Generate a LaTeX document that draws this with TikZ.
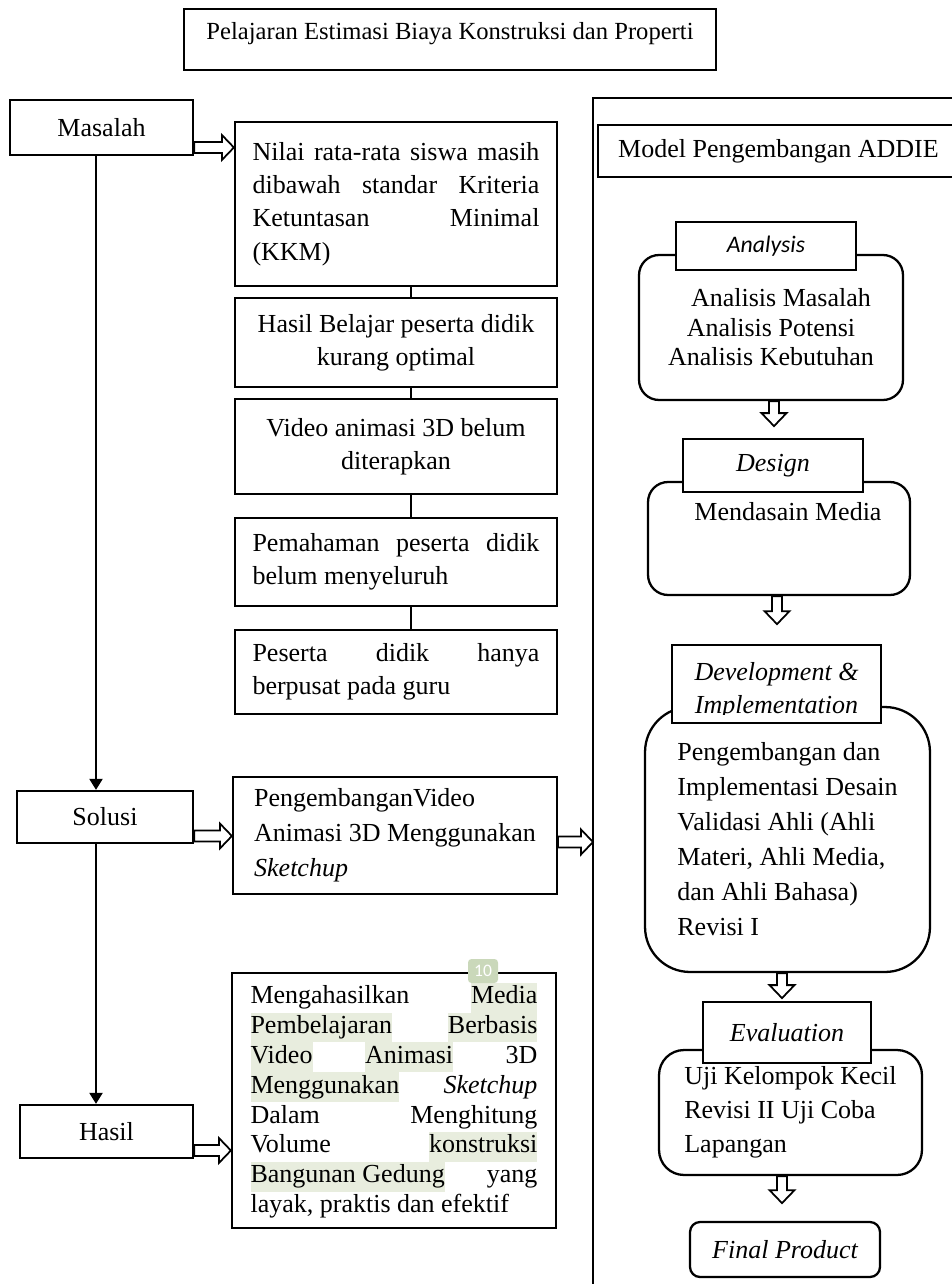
\documentclass[tikz,border=0pt]{standalone}
\usepackage{fontspec}
\setmainfont{Liberation Serif}
\newfontfamily\calibri{Carlito}
\usetikzlibrary{arrows.meta,calc}

\definecolor{hlgreen}{RGB}{232,237,222}
\definecolor{badgegreen}{RGB}{202,216,186}

\newcommand\fs{\fontsize{14.8}{19}\selectfont}
\newlength\jw
\setlength\jw{5.74cm}
\newcommand\jl[1]{\makebox[\jw][s]{#1}}
\newcommand\hl[1]{{\setlength{\fboxsep}{0pt}\colorbox{hlgreen}{\strut #1}}}

\begin{document}
\begin{tikzpicture}[
    x=0.02cm, y=-0.02cm, font=\fs,
    box/.style={draw,line width=1.3pt,inner sep=0pt},
    rbox/.style={box,rounded corners=#1},
    tab/.style={box,fill=white,font=\fs\itshape},
    lead/.style={line width=1.2pt,-{Triangle[length=0.22cm,width=0.26cm]}},
    link/.style={line width=1.3pt},
    blk/.style={draw,line width=1pt,fill=white},
    badge/.style={fill=badgegreen,rounded corners=2pt,minimum width=0.6cm,minimum height=0.48cm,inner sep=0pt,text=white,font=\calibri\fontsize{10}{10}\selectfont},
    hollowR/.style={to path={let \p1=(\tikztostart), \p2=(\tikztotarget) in
      (\x1,\y1+0.11cm) -- (\x2-0.24cm,\y1+0.11cm) -- (\x2-0.24cm,\y1+0.25cm) -- (\x2,\y1)
      -- (\x2-0.24cm,\y1-0.25cm) -- (\x2-0.24cm,\y1-0.11cm) -- (\x1,\y1-0.11cm) -- cycle}},
    hollowD/.style={to path={let \p1=(\tikztostart), \p2=(\tikztotarget) in
      (\x1-0.1cm,\y1) -- (\x1-0.1cm,\y2+0.26cm) -- (\x1-0.25cm,\y2+0.26cm) -- (\x1,\y2)
      -- (\x1+0.25cm,\y2+0.26cm) -- (\x1+0.1cm,\y2+0.26cm) -- (\x1+0.1cm,\y1) -- cycle}},
]
\useasboundingbox (0,0) rectangle (952,1284);

% ================= title =================
\node[box,minimum width=10.64cm,minimum height=1.22cm,text height=17.4pt,text depth=17.4pt,font=\fontsize{14}{17}\selectfont] (title) at (450,39.5) {Pelajaran Estimasi Biaya Konstruksi dan Properti};

% ================= left column: Masalah / Solusi / Hasil =================
\node[box,minimum width=3.66cm,minimum height=1.1cm] (masalah) at (101.5,127.5) {Masalah};
\node[box,minimum width=3.52cm,minimum height=1.04cm] (solusi) at (105,817) {Solusi};
\node[box,minimum width=3.46cm,minimum height=1.06cm] (hasil) at (106.5,1131.5) {Hasil};
\coordinate (spine) at (96,0);
\draw[lead] (masalah.south -| spine) -- (solusi.north -| spine);
\draw[lead] (solusi.south -| spine) -- (hasil.north -| spine);

% ================= problem chain =================
\node[box,minimum width=6.44cm,minimum height=3.28cm,align=left] (nilai) at (396,204) {\jl{Nilai rata-rata siswa masih}\\\jl{dibawah standar Kriteria}\\\jl{Ketuntasan Minimal}\\(KKM)};
\node[box,minimum width=6.44cm,minimum height=1.78cm,align=center] (belajar) at (396,342.5) {Hasil Belajar peserta didik\\kurang optimal};
\node[box,minimum width=6.44cm,minimum height=1.9cm,align=center] (video) at (396,446.5) {Video animasi 3D belum\\diterapkan};
\node[box,minimum width=6.44cm,minimum height=1.76cm,align=left] (paham) at (396,562) {\jl{Pemahaman peserta didik}\\belum menyeluruh};
\node[box,minimum width=6.44cm,minimum height=1.68cm,align=left] (pusat) at (396,672) {\jl{Peserta didik hanya}\\berpusat pada guru};
\coordinate (stem) at (411,0);
\foreach \a/\b in {nilai/belajar,belajar/video,video/paham,paham/pusat}
  \draw[link] (\a.south -| stem) -- (\b.north -| stem);

% ================= solution and result =================
\node[box,minimum width=6.48cm,minimum height=2.34cm,align=left,font=\fontsize{14.8}{19.9}\selectfont] (solusibox) at (395,835.5) {PengembanganVideo\\Animasi 3D Menggunakan\\\textit{Sketchup}};
\node[box,minimum width=6.48cm,minimum height=5.1cm,align=left,font=\fontsize{14.8}{17}\selectfont] (hasilbox) at (394,1100.5) {\jl{Mengahasilkan \hl{Media}}\\\jl{\hl{Pembelajaran} \hl{Berbasis}}\\\jl{\hl{Video} \hl{Animasi} 3D}\\\jl{\hl{Menggunakan} \textit{Sketchup}}\\\jl{Dalam Menghitung}\\\jl{Volume \hl{konstruksi}}\\\jl{\hl{Bangunan Gedung} yang}\\layak, praktis dan efektif};
\node[badge] (pgbadge) at (483,971) {10};

% ================= hollow arrows to the right =================
\coordinate (panel) at (593,98);
\draw[blk] ([yshift=-0.4cm]masalah.east) to[hollowR] (nilai.west);
\draw[blk] ([yshift=-0.38cm]solusi.east) to[hollowR] (solusibox.west);
\draw[blk] ([yshift=-0.38cm]hasil.east) to[hollowR] (hasilbox.west);
\draw[blk] ([yshift=-0.13cm]solusibox.east) to[hollowR] (panel);

% ================= right panel: ADDIE =================
\draw[line width=0.6pt] (990,98) -- (panel) -- (593,1300);
\node[box,anchor=west,minimum width=7.7cm,minimum height=1.04cm,inner xsep=0.36cm,text width=6.9cm,align=flush left] (addie) at (597,151) {Model Pengembangan ADDIE};

% analysis
\node[rbox=0.4cm,minimum width=5.28cm,minimum height=2.9cm,align=center,font=\fontsize{14.8}{16.8}\selectfont] (anabox) at (771,327.5) {\hspace*{0.4cm}Analisis Masalah\\Analisis Potensi\\Analisis Kebutuhan};
\node[tab,minimum width=3.6cm,minimum height=0.96cm,font=\calibri\itshape\fontsize{13.5}{16}\selectfont] (anatab) at (766,246) {Analysis};
\draw[blk] ([xshift=0.06cm]anabox.south) to[hollowD] ([xshift=0.06cm,yshift=-0.5cm]anabox.south);

% design
\node[rbox=0.4cm,minimum width=5.24cm,minimum height=2.26cm] (desbox) at (779,538.5) {};
\node (destext) at (788,512) {Mendasain Media};
\node[tab,minimum width=3.6cm,minimum height=1.06cm] (destab) at (773,465.5) {Design};
\draw[blk] ([xshift=-0.04cm]desbox.south) to[hollowD] ([xshift=-0.04cm,yshift=-0.56cm]desbox.south);

% development & implementation (tab text cut at its foot)
\node[rbox=0.9cm,minimum width=5.7cm,minimum height=5.3cm,align=left,font=\fontsize{14.8}{19.9}\selectfont] (devbox) at (787.5,839.5) {Pengembangan dan\\Implementasi Desain\\Validasi Ahli (Ahli\\Materi, Ahli Media,\\dan Ahli Bahasa)\\Revisi I};
\node[tab,minimum width=4.18cm,minimum height=1.56cm] (devtab) at (776.5,684) {};
\begin{scope}
  \clip (devtab.north west) rectangle ([yshift=0.2cm]devtab.south east);
  \node[align=center,font=\itshape\fontsize{14.8}{18.8}\selectfont] (devtext) at (776.5,691) {Development \&\\Implementation};
\end{scope}
\draw[blk] ([xshift=-0.11cm]devbox.south) to[hollowD] ([xshift=-0.11cm,yshift=-0.5cm]devbox.south);

% evaluation
\node[rbox=0.5cm,minimum width=5.26cm,minimum height=2.5cm,align=left,font=\fontsize{14.8}{19.4}\selectfont] (evalbox) at (790.5,1112.5) {Uji Kelompok Kecil\\Revisi II Uji Coba\\Lapangan};
\node[tab,minimum width=3.36cm,minimum height=1.22cm] (evaltab) at (787,1032.5) {Evaluation};
\draw[blk] ([xshift=-0.17cm]evalbox.south) to[hollowD] ([xshift=-0.17cm,yshift=-0.54cm]evalbox.south);

% final product
\node[rbox=0.2cm,minimum width=3.8cm,minimum height=1.1cm,font=\fs\itshape] (final) at (785,1249.5) {Final Product};

\end{tikzpicture}
\end{document}
